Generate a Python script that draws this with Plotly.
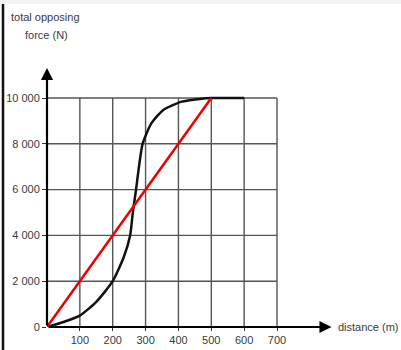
import plotly.graph_objects as go

# data
curve_x = [0, 50, 100, 150, 200, 234, 253, 261, 271, 291, 318, 354, 410, 465, 500, 600]
curve_y = [0, 220, 500, 1100, 2000, 3070, 4000, 4970, 6000, 8000, 8900, 9480, 9840, 9960, 10000, 10000]
line_x = [0, 500]
line_y = [0, 10000]
x_ticks = [100, 200, 300, 400, 500, 600, 700]
y_ticks = [0, 2000, 4000, 6000, 8000, 10000]
y_tick_text = ["0", "2 000", "4 000", "6 000", "8 000", "10 000"]

FONT = "Liberation Sans, Arial"
TXT = "#3a3a3a"
L, R_M, T, B = 47, 64, 66, 23
W, H = 401, 350
plot_w = W - L - R_M
plot_h = H - T - B
x_max = plot_w / (230 / 700)
y_max = plot_h / (229 / 10000)

fig = go.Figure()

# gridlines
gx, gy = [], []
for xv in x_ticks:
    gx += [xv, xv, None]
    gy += [0, 10000, None]
for yv in y_ticks[1:]:
    gx += [0, 700, None]
    gy += [yv, yv, None]
fig.add_trace(go.Scatter(x=gx, y=gy, mode="lines", line=dict(color="#555555", width=1.4),
                         hoverinfo="skip", showlegend=False))

fig.add_trace(go.Scatter(x=curve_x, y=curve_y, mode="lines",
                         line=dict(color="#111111", width=2.5, shape="spline", smoothing=0.6),
                         showlegend=False, cliponaxis=False))
fig.add_trace(go.Scatter(x=line_x, y=line_y, mode="lines",
                         line=dict(color="#ee0000", width=2.5), showlegend=False, cliponaxis=False))

# axes arrows
fig.add_annotation(x=866, y=0, ax=0, ay=0, xref="x", yref="y", axref="x", ayref="y",
                   showarrow=True, arrowhead=2, arrowwidth=2.2, arrowsize=1.1, arrowcolor="black", text="")
fig.add_annotation(x=0, y=11310, ax=0, ay=0, xref="x", yref="y", axref="x", ayref="y",
                   showarrow=True, arrowhead=2, arrowwidth=2.2, arrowsize=1.1, arrowcolor="black", text="")

# labels
fig.add_annotation(x=(368 - L) / plot_w, y=0.0, xref="paper", yref="paper", text="distance (m)",
                   showarrow=False, font=dict(family=FONT, size=11, color=TXT),
                   xanchor="center", yanchor="middle")
fig.add_annotation(x=(45 - L) / plot_w, y=(H - B - 17) / plot_h, xref="paper", yref="paper",
                   text="total opposing", showarrow=False,
                   font=dict(family=FONT, size=11, color=TXT), xanchor="center", yanchor="middle")
fig.add_annotation(x=(46 - L) / plot_w, y=(H - B - 35) / plot_h, xref="paper", yref="paper",
                   text="force (N)", showarrow=False,
                   font=dict(family=FONT, size=11, color=TXT), xanchor="center", yanchor="middle")

# frame decorations
fig.add_shape(type="line", xref="paper", yref="paper",
              x0=(3 - L) / plot_w, x1=(3 - L) / plot_w, y0=-B / plot_h, y1=(H - B) / plot_h,
              line=dict(color="#111111", width=2.5))
fig.add_shape(type="rect", xref="paper", yref="paper",
              x0=-L / plot_w, x1=(W - L) / plot_w, y0=(H - B - 4) / plot_h, y1=(H - B) / plot_h,
              line=dict(width=0), fillcolor="#f3f3f3")

fig.update_layout(
    width=W, height=H,
    margin=dict(l=L, r=R_M, t=T, b=B, autoexpand=False),
    paper_bgcolor="white", plot_bgcolor="white",
    xaxis=dict(range=[0, x_max], tickvals=x_ticks, ticktext=[str(v) for v in x_ticks],
               showgrid=False, zeroline=False, showline=False, ticks="outside", ticklen=3,
               automargin=False,
               tickcolor="#333", tickfont=dict(family=FONT, size=11, color=TXT), fixedrange=True),
    yaxis=dict(range=[0, y_max], tickvals=y_ticks, ticktext=y_tick_text,
               showgrid=False, zeroline=False, showline=False, ticks="outside", ticklen=4,
               automargin=False,
               tickcolor="#333", tickfont=dict(family=FONT, size=11, color=TXT), fixedrange=True),
)

fig.write_html("out.html", config={"displayModeBar": False},
               post_script="document.body.style.margin='0';document.body.style.overflow='hidden';")
